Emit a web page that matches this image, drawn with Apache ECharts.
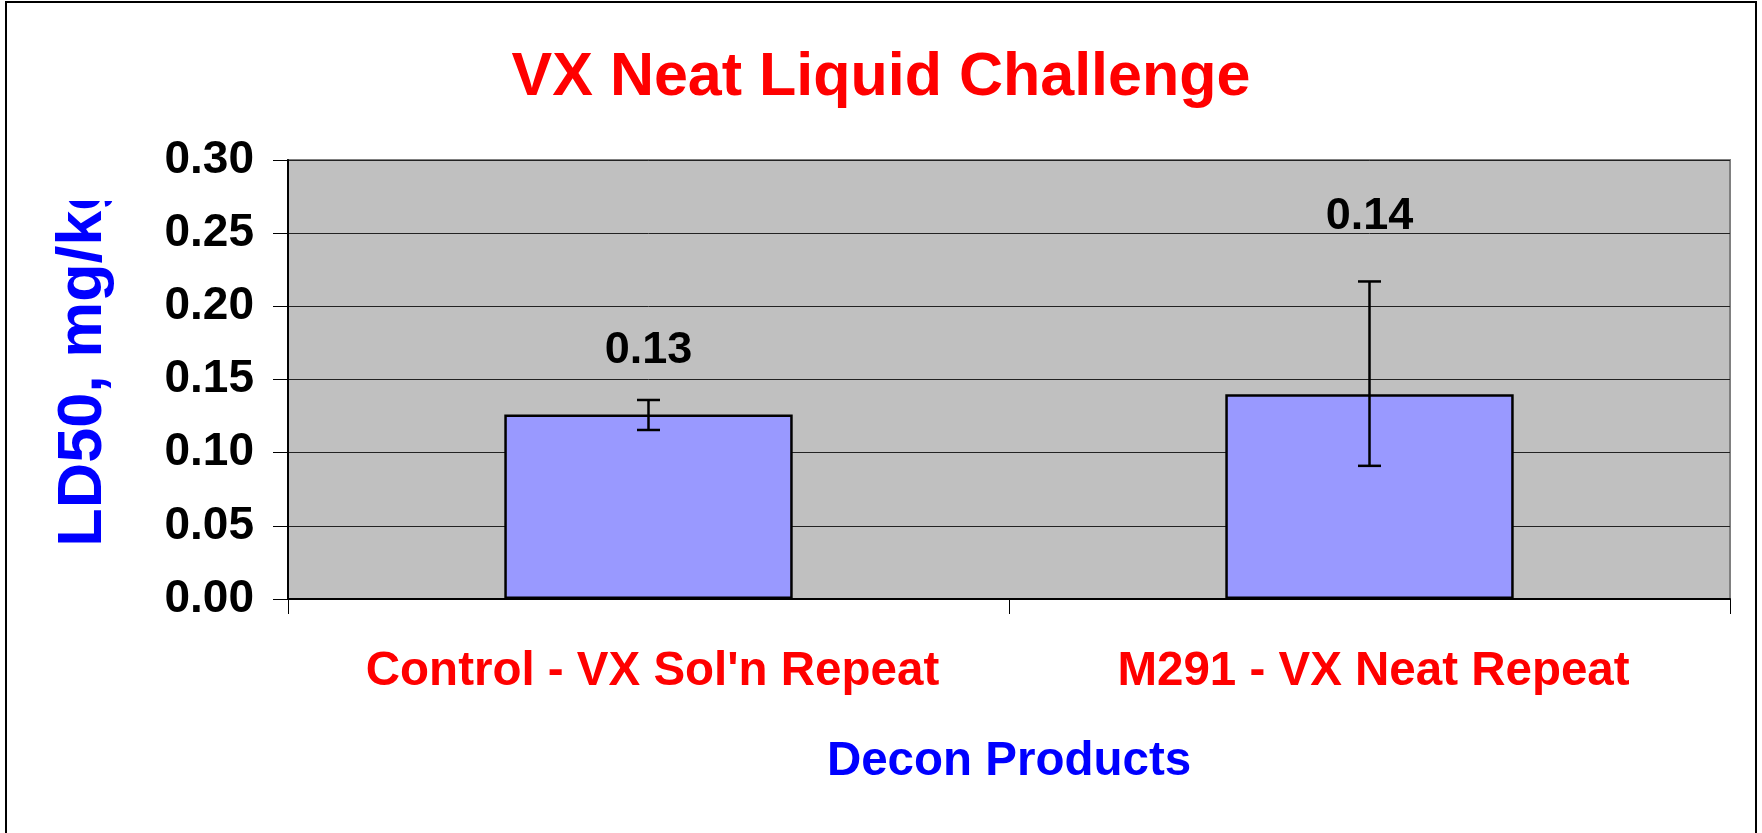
<!DOCTYPE html>
<html>
<head>
<meta charset="utf-8">
<title>VX Neat Liquid Challenge</title>
<script src="https://cdn.jsdelivr.net/npm/echarts@6/dist/echarts.min.js"></script>
<style>
  html, body { margin: 0; padding: 0; background: #fff; }
  #ec { width: 1762px; height: 833px; }
</style>
</head>
<body>
<div id="ec"></div>
<script>
// data
var categories = ["Control - VX Sol'n Repeat", 'M291 - VX Neat Repeat'];
var ld50 = [0.126, 0.14];
var errLow = [0.1155, 0.091];
var errHigh = [0.136, 0.217];
var yTicks = [0, 0.05, 0.1, 0.15, 0.2, 0.25, 0.3];

var font = '"Liberation Sans", Arial, sans-serif';

var myChart = echarts.init(document.getElementById('ec'));

// label distances above each bar (the labels sit at hand-placed heights)
var labelGap = [42, 155];

var option = {
    backgroundColor: '#fff',
    animation: false,
    title: {
        text: 'VX Neat Liquid Challenge',
        left: 'center',
        top: 43,
        textStyle: { color: '#ff0000', fontSize: 61, fontWeight: 'bold', fontFamily: font }
    },
    graphic: [{
        // the axis title is cut off at the top in the original, hide the overflow
        type: 'rect',
        shape: { x: 40, y: 150, width: 95, height: 51 },
        style: { fill: '#fff' },
        z: 100,
        silent: true
    }, {
        type: 'rect',
        shape: { x: 6, y: 2, width: 1750, height: 900 },
        style: { fill: 'none', stroke: '#000', lineWidth: 2 },
        z: 101,
        silent: true
    }],
    grid: {
        left: 288, right: 32, top: 160, bottom: 234,
        show: true,
        backgroundColor: '#c0c0c0',
        borderColor: '#808080',
        borderWidth: 2
    },
    xAxis: {
        type: 'category',
        data: categories,
        name: 'Decon Products',
        nameLocation: 'middle',
        nameGap: 139,
        nameTextStyle: { color: '#0000ff', fontSize: 47.5, fontWeight: 'bold', fontFamily: font },
        axisLine: { lineStyle: { color: '#000', width: 2 } },
        axisTick: { show: true, length: 15, inside: false, alignWithLabel: false, lineStyle: { color: '#000', width: 1 } },
        axisLabel: {
            color: '#ff0000', fontSize: 47.5, fontWeight: 'bold', fontFamily: font,
            margin: 49, interval: 0, padding: [0, 0, 0, 8]
        },
        splitLine: { show: false }
    },
    yAxis: {
        type: 'value',
        min: yTicks[0],
        max: yTicks[yTicks.length - 1],
        interval: 0.05,
        name: 'LD50, mg/kg',
        nameLocation: 'middle',
        nameGap: 173,
        nameRotate: 90,
        nameTextStyle: {
            color: '#0000ff', fontSize: 63, fontWeight: 'bold', fontFamily: font,
            padding: [0, 0, 0, 40]
        },
        axisLine: { show: true, lineStyle: { color: '#000', width: 2 } },
        axisTick: { show: true, length: 15, lineStyle: { color: '#000', width: 1 } },
        axisLabel: {
            color: '#000', fontSize: 46, fontWeight: 'bold', fontFamily: font, margin: 34,
            formatter: function (v) { return v.toFixed(2); }
        },
        splitLine: { show: true, lineStyle: { color: '#222', width: 1 } }
    },
    series: [{
        type: 'bar',
        barWidth: '40%',
        data: ld50.map(function (v, i) {
            return {
                value: v,
                label: { distance: labelGap[i] }
            };
        }),
        itemStyle: { color: '#9999ff', borderColor: '#000', borderWidth: 2.5 },
        label: {
            show: true,
            position: 'top',
            color: '#000',
            fontSize: 45,
            fontWeight: 'bold',
            fontFamily: font,
            formatter: function (p) { return p.value.toFixed(2); }
        },
        z: 2
    }, {
        type: 'custom',
        data: categories.map(function (c, i) { return [i, errLow[i], errHigh[i]]; }),
        renderItem: function (params, api) {
            var lo = api.coord([api.value(0), api.value(1)]);
            var hi = api.coord([api.value(0), api.value(2)]);
            var half = 11.5;
            var st = { stroke: '#000', lineWidth: 2.5 };
            return {
                type: 'group',
                children: [
                    { type: 'line', shape: { x1: hi[0], y1: hi[1], x2: lo[0], y2: lo[1] }, style: st },
                    { type: 'line', shape: { x1: hi[0] - half, y1: hi[1], x2: hi[0] + half, y2: hi[1] }, style: st },
                    { type: 'line', shape: { x1: lo[0] - half, y1: lo[1], x2: lo[0] + half, y2: lo[1] }, style: st }
                ]
            };
        },
        z: 3
    }]
};

myChart.setOption(option);
</script>
</body>
</html>
